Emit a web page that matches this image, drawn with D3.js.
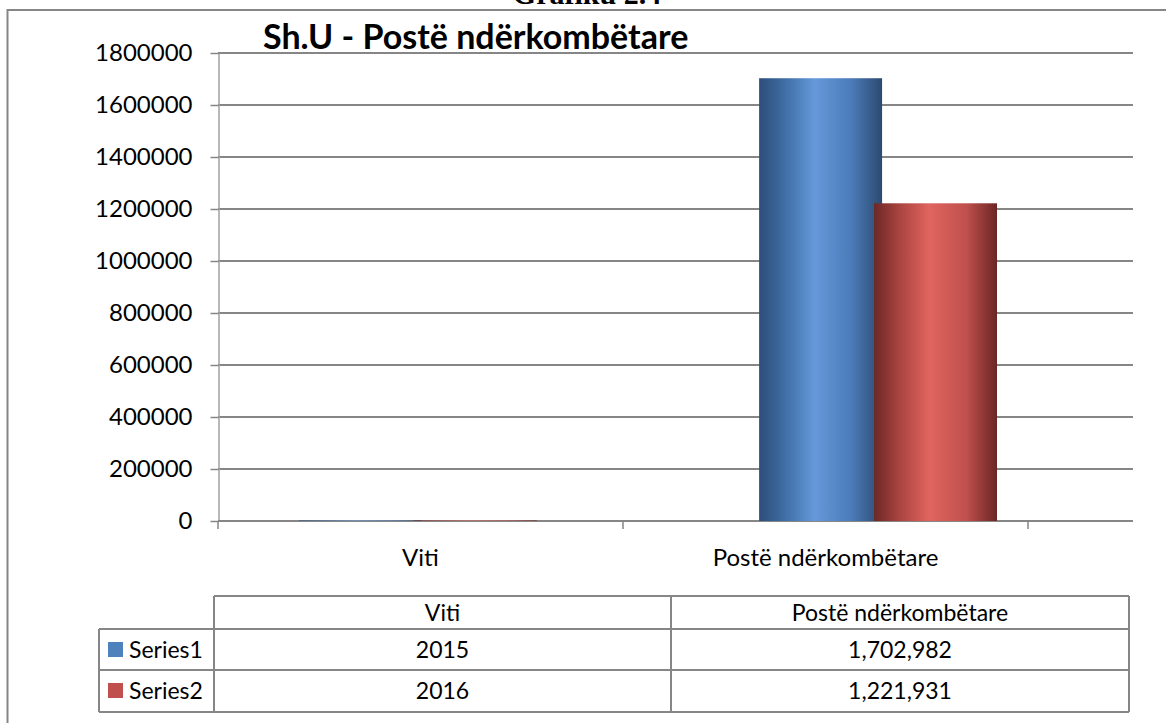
<!DOCTYPE html>
<html>
<head>
<meta charset="utf-8">
<script src="https://cdn.jsdelivr.net/npm/d3@7"></script>
<style>
  body { margin: 0; background: #fff; }
  svg { display: block; font-family: Lato, 'Open Sans', sans-serif; }
</style>
</head>
<body>
<svg id="chart" width="1166" height="723"></svg>
<script>
const categories = ['Viti', 'Postë ndërkombëtare']
const seriesNames = ['Series1', 'Series2']
const series1 = [2015, 1702982]
const series2 = [2016, 1221931]
const yTicks = [0, 200000, 400000, 600000, 800000, 1000000, 1200000, 1400000, 1600000, 1800000]
const seriesColors = ['#4f81bd', '#c0504d']
const cellFormats = ['d', ',']

const seriesValues = [series1, series2]
const grid = '#868686'

const svg = d3.select('#chart')

// gradients for the cylinder-like 3d columns
let defs = svg.append('defs')
let stops = [
  ['#2d4e7a', '#3f6ca3', '#4f81bd', '#6699da', '#4b7bb8', '#2c4a70'],
  ['#6c2826', '#a8433f', '#c4524e', '#e0655f', '#c0504d', '#6a2624']
]
stops.forEach((s, i) => {
  let g = defs.append('linearGradient').attr('id', 'grad' + i)
    .attr('x1', '0%').attr('x2', '100%').attr('y1', '0%').attr('y2', '0%')
  let offs = [0, 0.2, 0.32, 0.45, 0.75, 1]
  s.forEach((c, j) => g.append('stop').attr('offset', offs[j]).attr('stop-color', c))
})

// outer chart border
svg.append('rect')
  .attr('x', 7.5).attr('y', 10).attr('width', 1200).attr('height', 730)
  .attr('fill', 'none').attr('stroke', grid).attr('stroke-width', 2)

// page heading, cut off at the top like in the source document
svg.append('text')
  .attr('x', 587).attr('y', 4)
  .attr('text-anchor', 'middle')
  .style('font-family', "'Liberation Serif', serif")
  .style('font-weight', 'bold')
  .style('font-size', '30px')
  .text('Grafiku 2.4')

const y = d3.scaleLinear().domain([0, 1800000]).range([521, 53])
const xCat = d3.scaleBand().domain(categories).range([218, 1028])
const xBar = d3.scaleBand().domain(categories).range([299, 997]).paddingInner(0.483)
const xSub = d3.scaleBand().domain(seriesNames).range([0, xBar.bandwidth()]).paddingInner(-0.07)

// gridlines
svg.append('g')
  .selectAll('line')
  .data(yTicks.filter(d => d > 0))
  .enter()
  .append('line')
  .attr('x1', 218).attr('x2', 1133)
  .attr('y1', d => y(d)).attr('y2', d => y(d))
  .attr('stroke', grid).attr('stroke-width', 2)

// y axis
let yAxis = svg.append('g')
  .attr('transform', 'translate(218.5,0)')
  .call(d3.axisLeft(y).tickValues(yTicks).tickSize(8).tickSizeOuter(0).tickPadding(18).tickFormat(d3.format('d')))
yAxis.select('.domain').attr('stroke', '#a0a0a0').attr('stroke-width', 1.5)
yAxis.selectAll('.tick line').attr('stroke', grid).attr('stroke-width', 1.5)
yAxis.selectAll('.tick text')
  .style('font-size', '24px').style('font-family', 'Lato, sans-serif').attr('fill', '#000')

// baseline and category ticks
svg.append('line')
  .attr('x1', 218).attr('x2', 1133).attr('y1', y(0)).attr('y2', y(0))
  .attr('stroke', grid).attr('stroke-width', 2)
svg.append('g')
  .selectAll('line')
  .data(categories.map(c => xCat(c)).concat([xCat.range()[1]]))
  .enter()
  .append('line')
  .attr('x1', d => d).attr('x2', d => d)
  .attr('y1', y(0)).attr('y2', y(0) + 8)
  .attr('stroke', grid).attr('stroke-width', 1.5)

svg.append('g')
  .selectAll('text')
  .data(categories)
  .enter()
  .append('text')
  .attr('x', d => xCat(d) + xCat.bandwidth() / 2)
  .attr('y', 566)
  .attr('text-anchor', 'middle')
  .style('font-size', '24px')
  .text(d => d)

// bars
seriesNames.forEach((s, i) => {
  svg.append('g')
    .selectAll('rect')
    .data(categories)
    .enter()
    .append('rect')
    .attr('x', d => xBar(d) + xSub(s))
    .attr('width', xSub.bandwidth())
    .attr('y', (d, j) => y(seriesValues[i][j]))
    .attr('height', (d, j) => y(0) - y(seriesValues[i][j]))
    .attr('fill', 'url(#grad' + i + ')')
})

// title
svg.append('text')
  .attr('x', 263).attr('y', 49)
  .style('font-size', '34px')
  .style('font-weight', 'bold')
  .text('Sh.U - Postë ndërkombëtare')

// data table
const colX = [99, 214, 671, 1129]
const rowY = [596, 629, 670, 712]
let table = svg.append('g').attr('stroke', grid).attr('stroke-width', 2).attr('fill', 'none')
table.append('line').attr('x1', colX[1]).attr('x2', colX[3]).attr('y1', rowY[0]).attr('y2', rowY[0])
table.append('line').attr('x1', colX[0]).attr('x2', colX[3]).attr('y1', rowY[1]).attr('y2', rowY[1])
table.append('line').attr('x1', colX[0]).attr('x2', colX[3]).attr('y1', rowY[2]).attr('y2', rowY[2])
table.append('line').attr('x1', colX[0]).attr('x2', colX[3]).attr('y1', rowY[3]).attr('y2', rowY[3])
table.append('line').attr('x1', colX[0]).attr('x2', colX[0]).attr('y1', rowY[1]).attr('y2', rowY[3])
table.append('line').attr('x1', colX[1]).attr('x2', colX[1]).attr('y1', rowY[0]).attr('y2', rowY[3])
table.append('line').attr('x1', colX[2]).attr('x2', colX[2]).attr('y1', rowY[0]).attr('y2', rowY[3])
table.append('line').attr('x1', colX[3]).attr('x2', colX[3]).attr('y1', rowY[0]).attr('y2', rowY[3])

categories.forEach((c, j) => {
  let cx = (colX[j + 1] + colX[j + 2]) / 2
  svg.append('text')
    .attr('x', cx).attr('y', rowY[0] + 25)
    .attr('text-anchor', 'middle')
    .style('font-size', '23px')
    .text(c)
  seriesNames.forEach((s, i) => {
    svg.append('text')
      .attr('x', cx).attr('y', rowY[i + 1] + 29)
      .attr('text-anchor', 'middle')
      .style('font-size', '23px')
      .text(d3.format(cellFormats[j])(seriesValues[i][j]))
  })
})

seriesNames.forEach((s, i) => {
  svg.append('rect')
    .attr('x', 108).attr('y', rowY[i + 1] + 13)
    .attr('width', 15).attr('height', 15)
    .attr('fill', seriesColors[i])
  svg.append('text')
    .attr('x', 129).attr('y', rowY[i + 1] + 29)
    .style('font-size', '23px')
    .text(s)
})
</script>
</body>
</html>
